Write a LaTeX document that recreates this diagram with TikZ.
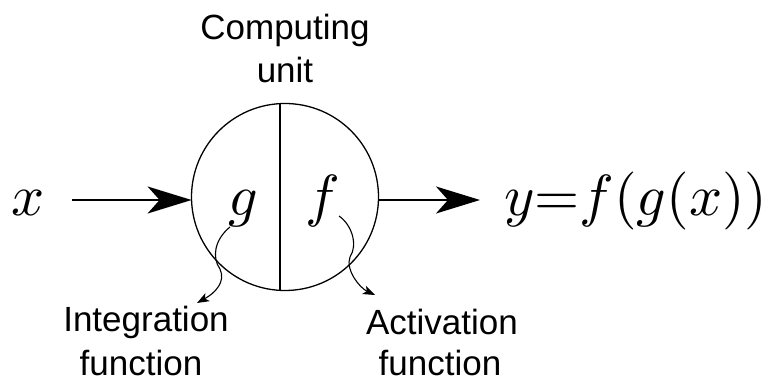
\documentclass[tikz,border=0pt]{standalone}
\usepackage{fontspec}
\setsansfont{Liberation Sans}
\usetikzlibrary{arrows.meta}
\tikzset{
  lbl/.style={font=\sffamily\fontsize{35}{38}\selectfont, inner sep=0pt, align=center},
  mth/.style={scale=5.8, inner sep=0pt},
  bigarrow/.style={line width=2pt, -{Stealth[length=44pt,width=27pt,inset=12pt]}},
  smallarrow/.style={line width=1.1pt, -{Stealth[length=12pt,width=9pt,inset=3pt]}},
}
\begin{document}
\begin{tikzpicture}[x=1pt,y=-1pt]
\useasboundingbox (0,0) rectangle (763,382);
\node[draw, circle, minimum size=187pt, line width=1.3pt, inner sep=0pt] (c) at (285,197) {};
\coordinate (ctop) at (280,103.5);
\coordinate (cbot) at (280,290.5);
\draw[line width=1.5pt] (ctop) -- (cbot);
\node[lbl] (cu1) at (285,30) {Computing};
\node[lbl] (cu2) at (285,70) {unit};
\node[mth, anchor=base] (g) at (243,215) {$g$};
\node[mth, anchor=base] (f) at (323,215) {$f$};
\node[mth, anchor=base] (x) at (28,215) {$x$};
\node[mth, anchor=base west] (y) at (503,215) {$y{=}f(g(x))$};
\coordinate (xs) at (72,200);
\coordinate (cw) at (191.6,200);
\draw[bigarrow] (xs) -- (cw);
\coordinate (ce) at (378.4,200);
\coordinate (ye) at (480,200);
\draw[bigarrow] (ce) -- (ye);
\node[lbl] (i1) at (146,322) {Integration};
\node[lbl] (i2) at (141,363) {function};
\node[lbl] (a1) at (442,322) {Activation};
\node[lbl] (a2) at (440,363) {function};
\coordinate (gs) at (230,227);
\coordinate (gm) at (220,269);
\coordinate (ge) at (197,303);
\draw[smallarrow] (gs) .. controls (214,240) and (212,258) .. (gm) .. controls (226,282) and (215,293) .. (ge);
\coordinate (fs) at (339,216);
\coordinate (fm) at (350,257);
\coordinate (fe) at (375,295);
\draw[smallarrow] (fs) .. controls (352,225) and (358,245) .. (fm) .. controls (345,270) and (360,288) .. (fe);
\end{tikzpicture}
\end{document}
